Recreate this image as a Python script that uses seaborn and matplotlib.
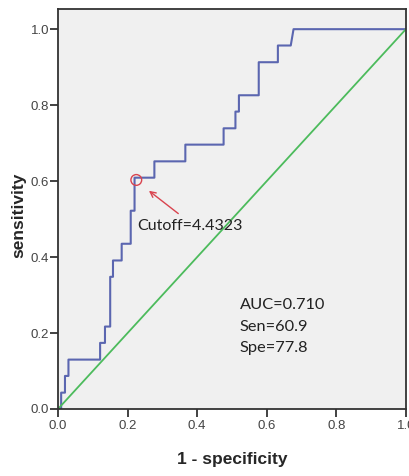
import matplotlib
matplotlib.use("Agg")
import matplotlib.pyplot as plt
import seaborn as sns

# ROC curve vertices (1 - specificity, sensitivity)
fpr = [0, 0.009, 0.009, 0.020, 0.020, 0.030, 0.030, 0.121, 0.121, 0.135, 0.135,
       0.150, 0.150, 0.158, 0.158, 0.183, 0.183, 0.209, 0.209, 0.220, 0.220,
       0.277, 0.277, 0.366, 0.366, 0.476, 0.476, 0.510, 0.510, 0.520, 0.520,
       0.577, 0.577, 0.632, 0.632, 0.669, 0.677, 1.0]
tpr = [0, 0, 0.043, 0.043, 0.087, 0.087, 0.130, 0.130, 0.174, 0.174, 0.217,
       0.217, 0.348, 0.348, 0.391, 0.391, 0.435, 0.435, 0.522, 0.522, 0.609,
       0.609, 0.652, 0.652, 0.696, 0.696, 0.739, 0.739, 0.783, 0.783, 0.826,
       0.826, 0.913, 0.913, 0.957, 0.957, 1.0, 1.0]

# reference line
diag_x = [0, 1]
diag_y = [0, 1]

# cutoff point
cut_x = [0.225]
cut_y = [0.603]
ticks = [0.0, 0.2, 0.4, 0.6, 0.8, 1.0]
tick_labels = ["0.0", "0.2", "0.4", "0.6", "0.8", "1.0"]

sns.set_style("white", {"axes.facecolor": "#F0F0F0", "axes.edgecolor": "#333333"})
plt.rcParams["font.family"] = ["Liberation Sans", "DejaVu Sans"]

fig = plt.figure(figsize=(4.1, 4.76), dpi=100)
ax = fig.add_axes([0.1415, 0.1408, 0.8485, 0.8402])

sns.lineplot(x=fpr, y=tpr, sort=False, estimator=None, color="#5b66b0", lw=1.5, ax=ax)
sns.lineplot(x=diag_x, y=diag_y, sort=False, estimator=None, color="#4cbb5c", lw=1.3, ax=ax)

# circulo no ponto de corte
ax.scatter(cut_x, cut_y, s=60, facecolors="none", edgecolors="#d9434e", linewidths=1.0, zorder=5)
ax.annotate("", xy=(0.255, 0.579), xytext=(0.352, 0.510),
            arrowprops=dict(arrowstyle="->", color="#d9434e", lw=1.0))

ax.text(0.229, 0.482, "Cutoff=4.4323", fontsize=11.5, family="Lato", va="center", color="#222222")
ax.text(0.522, 0.274, "AUC=0.710", fontsize=11.8, family="Lato", va="center", color="#222222")
ax.text(0.522, 0.217, "Sen=60.9", fontsize=11.8, family="Lato", va="center", color="#222222")
ax.text(0.522, 0.160, "Spe=77.8", fontsize=11.8, family="Lato", va="center", color="#222222")

ax.set_xlim(0, 1)
ax.set_ylim(0, 1.053)
ax.set_xticks(ticks)
ax.set_xticklabels(tick_labels)
ax.set_yticks(ticks)
ax.set_yticklabels(tick_labels)
ax.tick_params(axis="both", direction="out", length=5.5, width=1.3, pad=2.5,
               labelsize=9.5, labelcolor="#444444", color="#333333",
               bottom=True, left=True)
ax.tick_params(axis="y", pad=1)
for sp in ax.spines.values():
    sp.set_linewidth(1.3)

ax.set_xlabel("1 - specificity", fontsize=12.5, fontweight="bold")
ax.set_ylabel("sensitivity", fontsize=12.5, fontweight="bold")
ax.xaxis.set_label_coords(0.5, -0.108)
ax.yaxis.set_label_coords(-0.092, 0.485)

plt.savefig("out.png", dpi=100)
